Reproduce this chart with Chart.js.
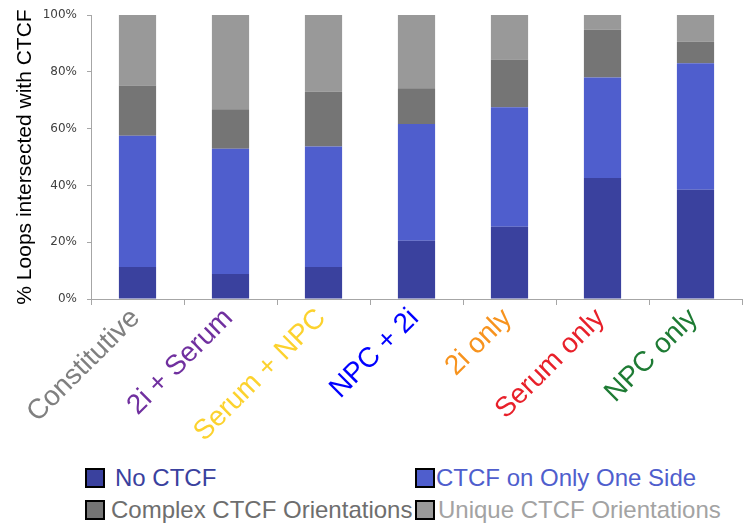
<!DOCTYPE html>
<html>
<head>
<meta charset="utf-8">
<script src="https://cdn.jsdelivr.net/npm/chart.js@4.4.1/dist/chart.umd.min.js"></script>
<style>
    html, body { margin: 0; padding: 0; background: #fff; }
    #wrap { position: relative; width: 746px; height: 531px; overflow: hidden; }
    #chart-box { position: absolute; left: 0; top: 0; width: 746px; height: 455px; }
    .swatch { position: absolute; width: 16px; height: 16px; border: 2px solid #000; }
    .lg-text {
        position: absolute; height: 20px; display: flex; align-items: center;
        font-family: "Liberation Sans", Arial, sans-serif; font-size: 24px; line-height: 24px;
        white-space: nowrap;
    }
</style>
</head>
<body>
<div id="wrap">
    <div id="chart-box"><canvas id="chart"></canvas></div>
    <div id="legend"></div>
</div>
<script>
// 데이터
const categories = ['Constitutive', '2i + Serum', 'Serum + NPC', 'NPC + 2i', '2i only', 'Serum only', 'NPC only'];
const categoryColors = ['#808080', '#70309f', '#fcd22e', '#0000ff', '#f7931e', '#e8202a', '#1e7b34'];

const seriesNames = ['No CTCF', 'CTCF on Only One Side', 'Complex CTCF Orientations', 'Unique CTCF Orientations'];
const seriesColors = ['#3a419e', '#4f5ecd', '#757575', '#999999'];
const legendTextColors = ['#3a419e', '#4f5ecd', '#6e6e6e', '#a3a3a3'];

const noCtcf = [11.3, 8.8, 11.3, 20.5, 25.4, 42.6, 38.5];
const oneSide = [46.2, 44.1, 42.4, 41.1, 42.1, 35.4, 44.5];
const complexOrient = [17.7, 13.9, 19.3, 12.6, 16.8, 16.8, 7.6];
const uniqueOrient = [24.8, 33.2, 27.0, 25.8, 15.7, 5.2, 9.4];

const yTicks = [0, 20, 40, 60, 80, 100];

const axisGrey = '#a6a6a6';
const seriesData = [noCtcf, oneSide, complexOrient, uniqueOrient];

new Chart(document.getElementById('chart'), {
    type: 'bar',
    data: {
        labels: categories,
        datasets: seriesData.map((d, i) => ({
            label: seriesNames[i],
            data: d,
            backgroundColor: seriesColors[i],
            borderWidth: 0,
            barPercentage: 0.4,
            categoryPercentage: 1
        }))
    },
    options: {
        responsive: true,
        maintainAspectRatio: false,
        animation: false,
        devicePixelRatio: 1,
        layout: { padding: { top: 15, right: 4, left: 0, bottom: 0 } },
        plugins: {
            legend: { display: false },
            tooltip: { enabled: false }
        },
        scales: {
            x: {
                stacked: true,
                grid: { display: true, drawOnChartArea: false, drawTicks: true, tickLength: 6, color: axisGrey, offset: true },
                border: { color: axisGrey },
                ticks: {
                    color: (ctx) => categoryColors[ctx.index],
                    font: { family: '"Liberation Sans", Arial, sans-serif', size: 28 },
                    minRotation: 45,
                    maxRotation: 45,
                    autoSkip: false,
                    labelOffset: -2,
                    padding: -3
                },
                afterFit: (s) => { s.height = 156; }
            },
            y: {
                stacked: true,
                min: 0,
                max: 100,
                afterBuildTicks: (s) => { s.ticks = yTicks.map(v => ({ value: v })); },
                grid: { display: true, drawOnChartArea: false, tickLength: 4, color: axisGrey },
                border: { color: axisGrey },
                ticks: {
                    callback: (v) => v + '%',
                    font: { family: '"DejaVu Sans", Verdana, sans-serif', size: 12 },
                    color: '#404040',
                    padding: 10
                },
                title: {
                    display: true,
                    text: '% Loops intersected with CTCF',
                    color: '#000',
                    font: { family: '"Liberation Sans", Arial, sans-serif', size: 21 },
                    padding: { top: 13, bottom: 0 }
                },
                afterFit: (s) => {
                    s.width = 91;
                    s.paddingTop = 0;
                    s.paddingBottom = 0;
                }
            }
        }
    }
});

// 범례 (2 x 2)
const legendPos = [
    { box: [85, 468], text: [115, 468] },
    { box: [415, 468], text: [436, 468] },
    { box: [85, 500], text: [111, 500] },
    { box: [415, 500], text: [438, 500] }
];
const legend = document.getElementById('legend');
legend.innerHTML = seriesNames.map((name, i) => `
    <div class="swatch" style="left:${legendPos[i].box[0]}px;top:${legendPos[i].box[1]}px;background:${seriesColors[i]}"></div>
    <div class="lg-text" style="left:${legendPos[i].text[0]}px;top:${legendPos[i].text[1]}px;color:${legendTextColors[i]}">${name}</div>
`).join('');
</script>
</body>
</html>
